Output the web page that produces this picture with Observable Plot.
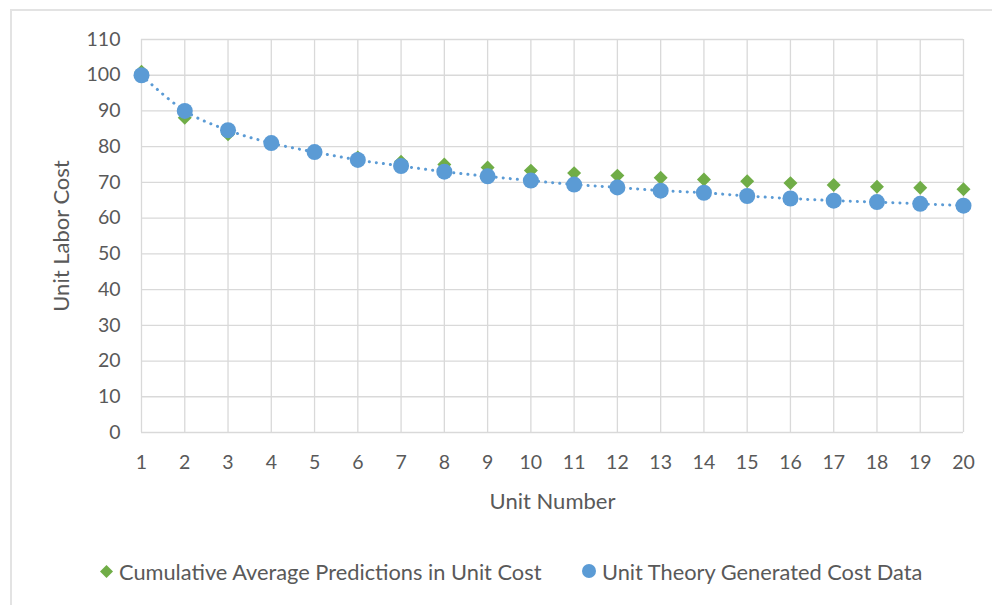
<!DOCTYPE html>
<html>
<head>
<meta charset="utf-8">
<script src="https://cdn.jsdelivr.net/npm/d3@7"></script>
<script src="https://cdn.jsdelivr.net/npm/@observablehq/plot@0.6"></script>
<style>
  html, body { margin: 0; padding: 0; background: #fff; }
  #wrap { position: relative; width: 992px; height: 605px; overflow: hidden; font-family: Lato, "Open Sans", sans-serif; }
  #border { position: absolute; left: 10px; top: 9px; width: 1100px; height: 700px; border: 2px solid #e3e3e3; box-sizing: border-box; }
  #chart { position: absolute; left: 0; top: 0; }
  #legend { position: absolute; left: 0; top: 557px; width: 992px; height: 28px; color: #595959; font-size: 21.8px; }
  .item { position: absolute; top: 0; display: flex; align-items: center; height: 28px; white-space: nowrap; }
  .sw { margin-right: 6px; }
</style>
</head>
<body>
<div id="wrap">
  <div id="border"></div>
  <div id="chart"></div>
  <div id="legend"></div>
</div>
<script>
const units = [1,2,3,4,5,6,7,8,9,10,11,12,13,14,15,16,17,18,19,20];
const unitTheory = [100,90,84.6,81,78.5,76.3,74.6,73.0,71.7,70.5,69.4,68.6,67.7,67.1,66.2,65.5,64.9,64.5,64.0,63.5];
const cumulativeAvg = [101,88.1,83.5,81,78.6,77.0,75.8,75.0,74.2,73.3,72.6,71.9,71.3,70.8,70.3,69.8,69.3,68.8,68.5,68.1];
const yTicks = [0,10,20,30,40,50,60,70,80,90,100,110];
const seriesNames = ["Cumulative Average Predictions in Unit Cost", "Unit Theory Generated Cost Data"];
const colors = ["#70ad47", "#5b9bd5"];

const green = units.map((u, i) => ({unit: u, cost: cumulativeAvg[i]}));
const blue = units.map((u, i) => ({unit: u, cost: unitTheory[i]}));

const chart = Plot.plot({
  width: 992,
  height: 530,
  marginLeft: 141,
  marginRight: 29,
  marginTop: 39,
  marginBottom: 98,
  style: {fontFamily: "Lato, 'Open Sans', sans-serif", fontSize: "22px", color: "#595959", background: "transparent"},
  x: {domain: [1, 20], ticks: units, tickFormat: d => String(d)},
  y: {domain: [0, 110], ticks: yTicks},
  marks: [
    Plot.gridX(units, {stroke: "#d9d9d9", strokeOpacity: 1, strokeWidth: 1.3}),
    Plot.gridY(yTicks, {stroke: "#d9d9d9", strokeOpacity: 1, strokeWidth: 1.3}),
    Plot.axisX({ticks: units, tickSize: 0, tickPadding: 23, fontSize: 19.5, label: null}),
    Plot.axisX({ticks: [], tickSize: 0, label: "Unit Number", labelAnchor: "center", labelArrow: "none", labelOffset: 76}),
    Plot.axisY({ticks: yTicks, tickSize: 0, tickPadding: 21, fontSize: 19.5, label: null}),
    Plot.axisY({ticks: [], tickSize: 0, label: "Unit Labor Cost", labelAnchor: "center", labelArrow: "none", labelOffset: 88}),
    Plot.dot(green, {x: "unit", y: "cost", symbol: "diamond2", r: 6.3, fill: colors[0], stroke: "none"}),
    Plot.line(blue, {x: "unit", y: "cost", stroke: colors[1], strokeWidth: 3, strokeDasharray: "0.1,7", strokeLinecap: "round", curve: "catmull-rom"}),
    Plot.dot(blue, {x: "unit", y: "cost", r: 8, fill: colors[1], stroke: "none"})
  ]
});
document.getElementById("chart").appendChild(chart);

// legend
const legend = document.getElementById("legend");
const pos = [100, 582];
seriesNames.forEach((name, i) => {
  const item = document.createElement("div");
  item.className = "item";
  item.style.left = pos[i] + "px";
  const sw = i === 0
    ? '<svg class="sw" width="13" height="13"><path d="M6.5 0 L13 6.5 L6.5 13 L0 6.5Z" fill="' + colors[0] + '"/></svg>'
    : '<svg class="sw" width="14" height="14"><circle cx="7" cy="7" r="7" fill="' + colors[1] + '"/></svg>';
  item.innerHTML = sw + '<span>' + name + '</span>';
  legend.appendChild(item);
});
</script>
</body>
</html>
